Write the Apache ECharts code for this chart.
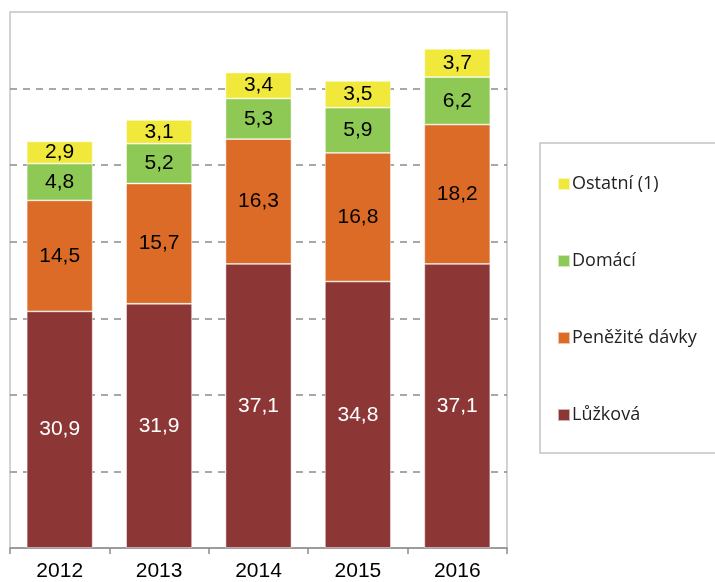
<!DOCTYPE html>
<html>
<head>
<meta charset="utf-8">
<script src="https://cdn.jsdelivr.net/npm/echarts@6/dist/echarts.min.js"></script>
<style>
    html, body {margin: 0; padding: 0; background: #fff;}
    #chart {width: 715px; height: 582px;}
</style>
</head>
<body>
<div id="chart"></div>
<script>
const years = ['2012', '2013', '2014', '2015', '2016'];
const luzkova = [30.9, 31.9, 37.1, 34.8, 37.1];
const penezite = [14.5, 15.7, 16.3, 16.8, 18.2];
const domaci = [4.8, 5.2, 5.3, 5.9, 6.2];
const ostatni = [2.9, 3.1, 3.4, 3.5, 3.7];
const yTicks = {min: 0, max: 70, interval: 10};

const fmt = p => String(p.value).replace('.', ',');

const makeSeries = (name, data, color, labelColor) => ({
    name: name,
    type: 'bar',
    stack: 'total',
    data: data,
    barWidth: 66,
    itemStyle: {color: color, borderColor: 'rgba(255,255,255,0.6)', borderWidth: 0.8},
    label: {
        show: true,
        position: 'inside',
        formatter: fmt,
        color: labelColor,
        fontFamily: 'Liberation Sans',
        fontSize: 21
    }
});

const chart = echarts.init(document.getElementById('chart'));
chart.setOption({
    animation: false,
    grid: {
        left: 10,
        right: 208,
        top: 12,
        bottom: 34,
        show: true,
        borderColor: '#c4c4c4',
        borderWidth: 1.5
    },
    graphic: [{
        type: 'rect',
        shape: {x: 540, y: 143, width: 190, height: 310},
        style: {fill: '#fff', stroke: '#c4c4c4', lineWidth: 1.5},
        z: 0
    }],
    legend: {
        orient: 'vertical',
        left: 557,
        top: 175,
        padding: 0,
        itemWidth: 12,
        itemHeight: 12,
        itemGap: 59,
        icon: 'rect',
        data: ['Ostatní (1)', 'Domácí', 'Peněžité dávky', 'Lůžková'],
        textStyle: {fontFamily: 'Open Sans', fontSize: 18, color: '#222', padding: [0, 0, 0, -3]},
        z: 5
    },
    xAxis: {
        type: 'category',
        data: years,
        axisLine: {lineStyle: {color: '#8c8c8c', width: 1.5}},
        axisTick: {show: true, length: 6, lineStyle: {color: '#8c8c8c', width: 1.5}},
        axisLabel: {color: '#000', fontFamily: 'Liberation Sans', fontSize: 21, margin: 13}
    },
    yAxis: {
        type: 'value',
        min: yTicks.min,
        max: yTicks.max,
        interval: yTicks.interval,
        axisLabel: {show: false},
        axisTick: {show: false},
        axisLine: {show: false},
        splitLine: {
            show: true,
            showMinLine: false,
            showMaxLine: false,
            lineStyle: {color: '#8c8c8c', type: [7, 6], width: 1.5}
        }
    },
    series: [
        makeSeries('Lůžková', luzkova, '#8d3636', '#fff'),
        makeSeries('Peněžité dávky', penezite, '#dc6b27', '#000'),
        makeSeries('Domácí', domaci, '#8ec955', '#000'),
        makeSeries('Ostatní (1)', ostatni, '#f0e93c', '#000')
    ]
});
</script>
</body>
</html>
